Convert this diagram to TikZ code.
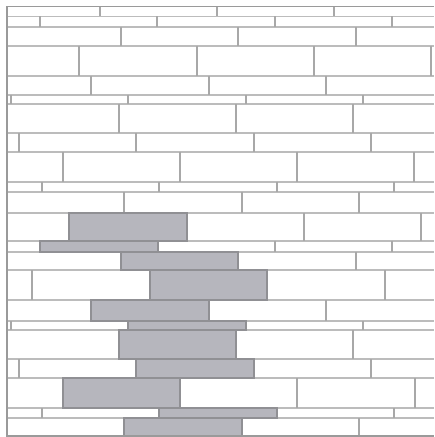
\documentclass[tikz,border=0pt]{standalone}
\begin{document}
\begin{tikzpicture}[x=0.5pt,y=-0.5pt]
\definecolor{hlinec}{HTML}{BCBCBC}
\definecolor{jointc}{HTML}{A8A8A8}
\definecolor{borderc}{HTML}{9A9A9A}
\definecolor{brickfill}{HTML}{B6B6BD}
\definecolor{brickedge}{HTML}{909094}
\tikzset{
  hl/.style={draw=hlinec, line width=0.85pt},
  jointline/.style={draw=jointc, line width=0.65pt},
  wallborder/.style={draw=borderc, line width=0.8pt},
  graybrick/.style={fill=brickfill, draw=brickedge, line width=0.6pt}
}
\useasboundingbox (0,0) rectangle (434,437);
\fill[white] (0,0) rectangle (434,437);
% horizontal courses
\foreach \y in {16.5,27,46,76,95,104,133,152,182,192,213,241,252,270,300,321,330,359,378,408,418}
  \draw[hl] (7,\y) -- (434,\y);
% vertical joints per course
\foreach \ya/\yb/\js in {
  6.7/16.5/{100,217,334},
  16.5/27/{40,157,275,392},
  27/46/{121,238,356},
  46/76/{79,197,314,431},
  76/95/{91,209,326},
  95/104/{11,128,246,363},
  104/133/{119,236,353},
  133/152/{19,136,254,371},
  152/182/{63,180,297,414},
  182/192/{42,159,277,394},
  192/213/{124,242,359},
  213/241/{304,421},
  241/252/{275,392},
  252/270/{356},
  270/300/{32,385},
  300/321/{326},
  321/330/{11,363},
  330/359/{353},
  359/378/{19,371},
  378/408/{297,415},
  408/418/{42,394},
  418/436/{359}}
{
  \foreach \j in \js { \draw[jointline] (\j,\ya) -- (\j,\yb); }
}
% grey bricks
\foreach \ya/\yb/\xa/\xb in {
  213/241/69/187,
  241/252/40/158,
  252/270/121/238,
  270/300/150/267,
  300/321/91/209,
  321/330/128/246,
  330/359/119/236,
  359/378/136/254,
  378/408/63/180,
  408/418/159/277,
  418/436/124/242}
{
  \draw[graybrick] (\xa,\ya) rectangle (\xb,\yb);
}
% outer border
\draw[wallborder] (434,6.7) -- (7,6.7) -- (7,436) -- (434,436);
\end{tikzpicture}
\end{document}
